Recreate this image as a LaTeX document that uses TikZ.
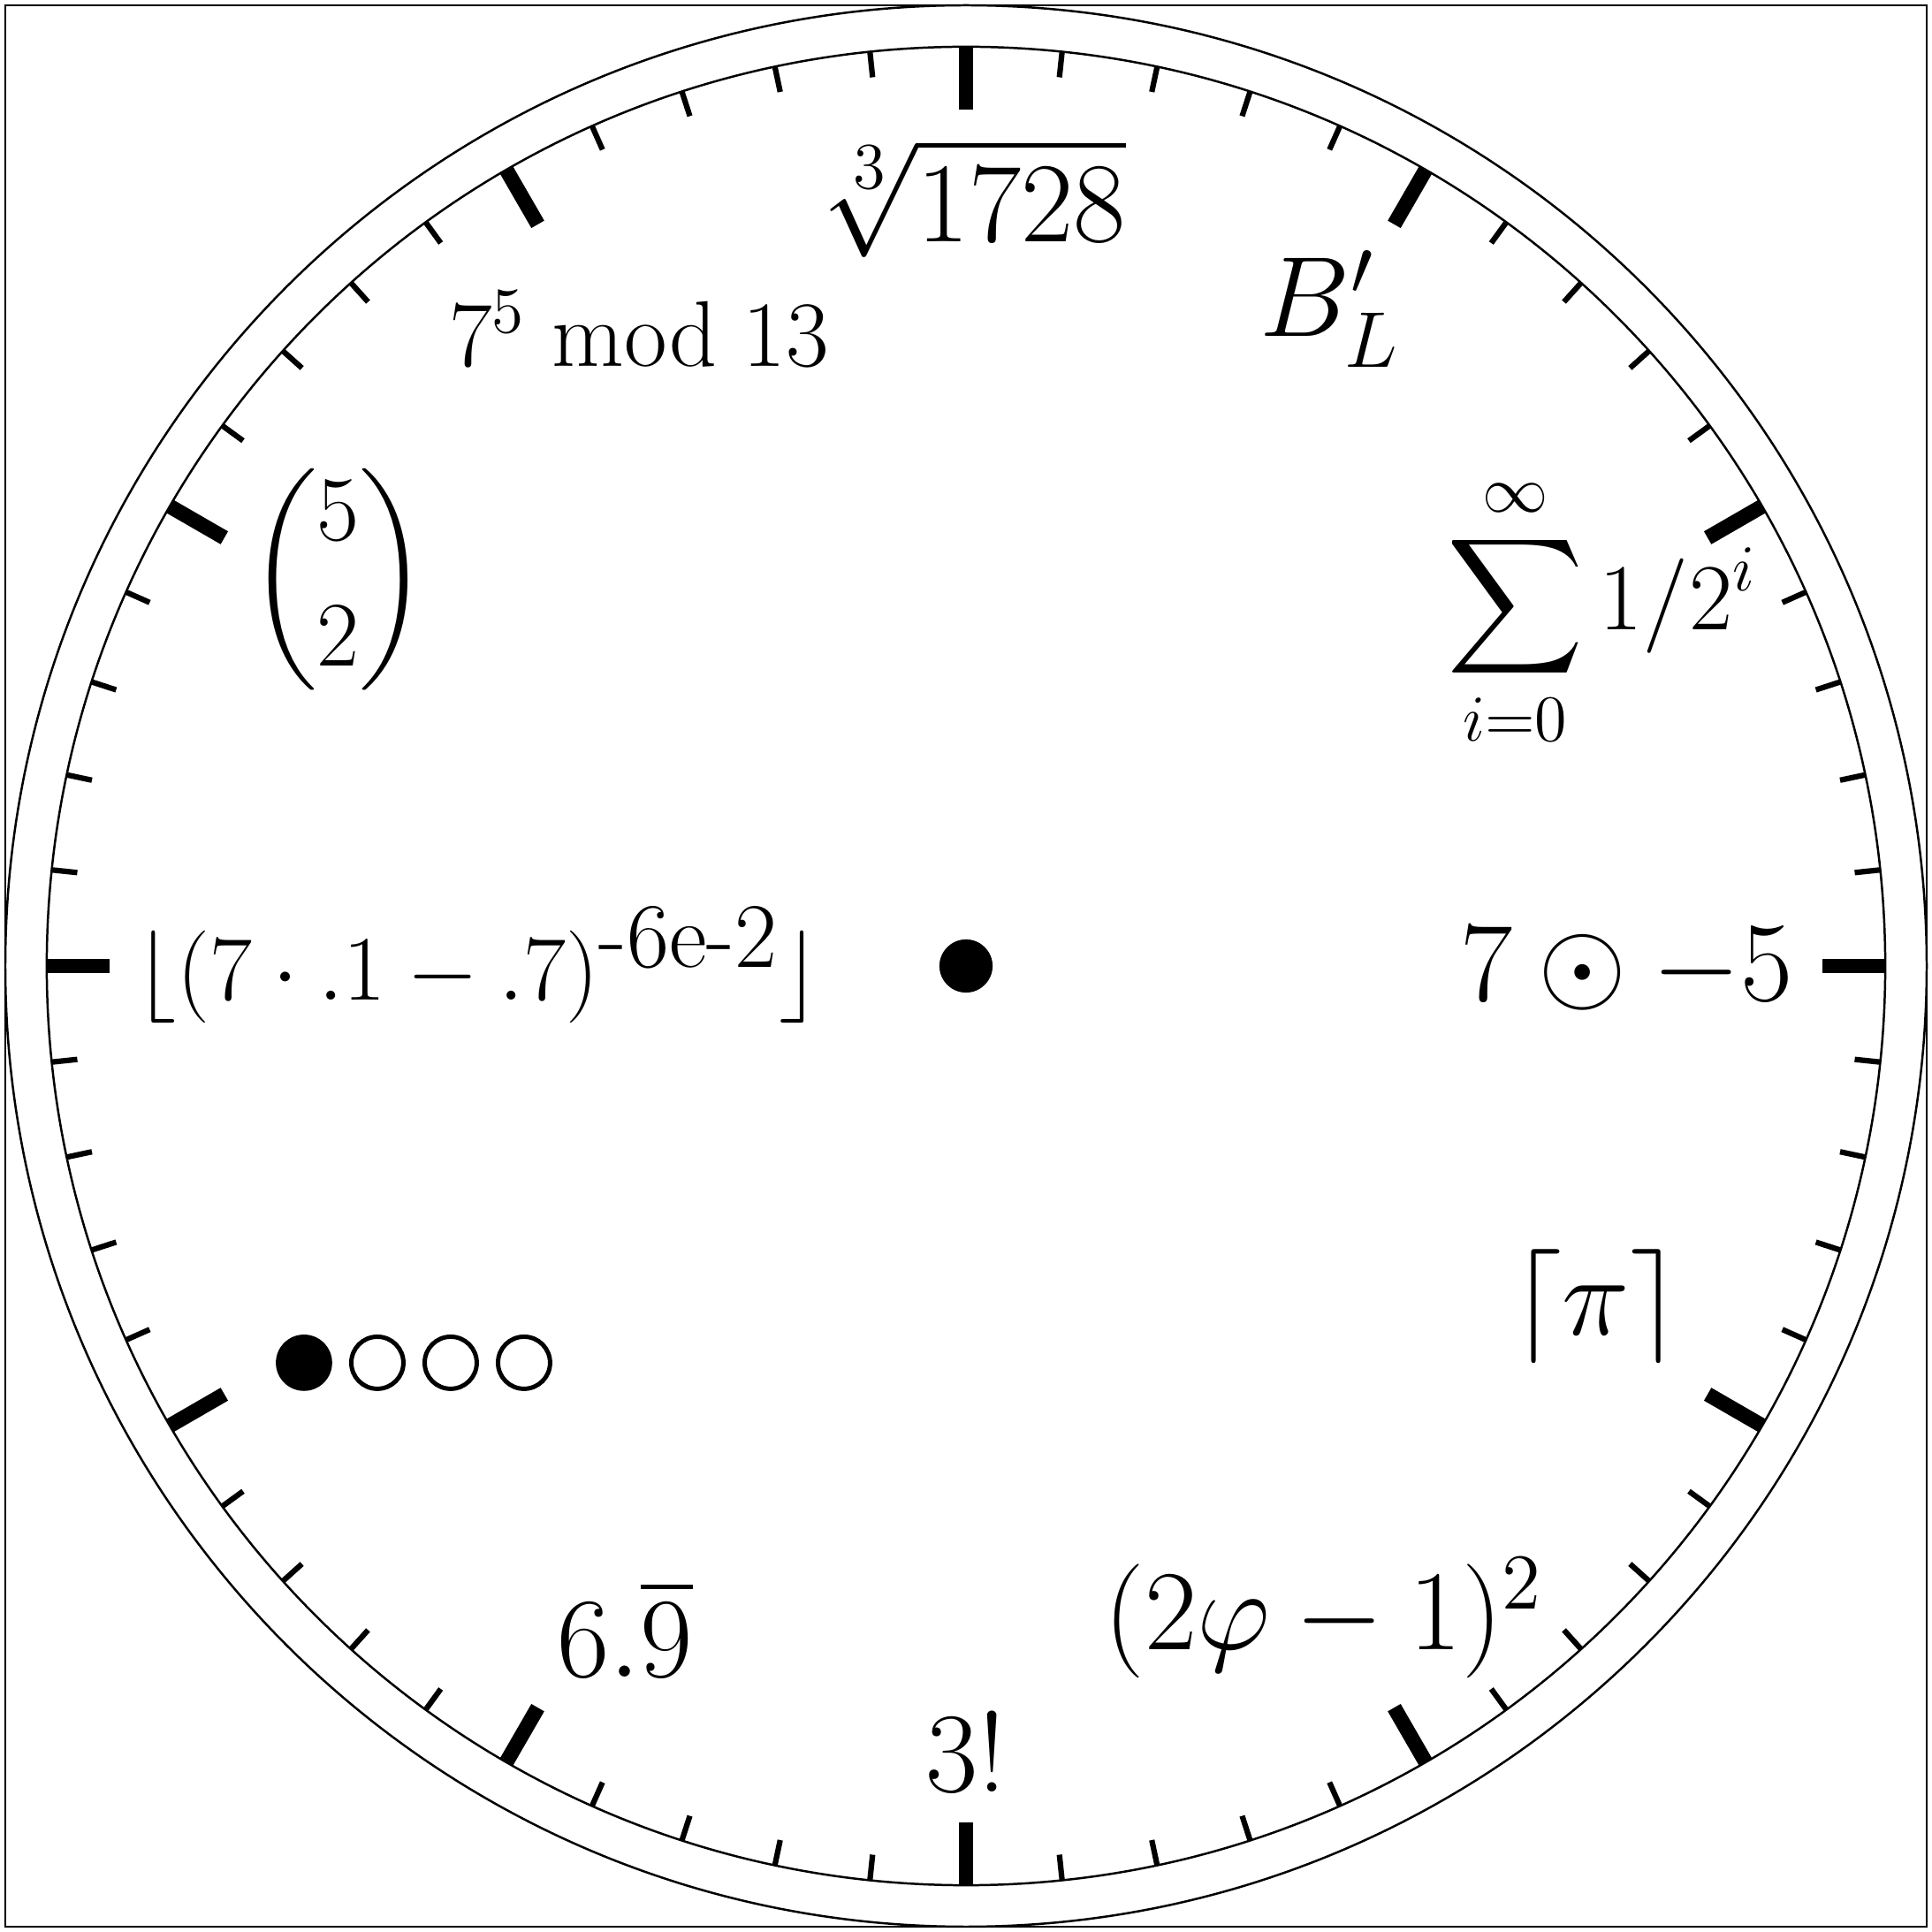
\documentclass[tikz,border=0pt]{standalone}
\usepackage{amssymb}
\usepackage{amsmath}
\usepackage{graphicx}
\usepackage{tikz}

\begin{document}
\begin{tikzpicture}[
    hour/.style={font=\huge, inner sep=0pt, anchor=base},
    bigtick/.style={line width=2.7pt},
    smalltick/.style={line width=1pt},
    bit/.style={circle, minimum size=0.36cm, inner sep=0pt, fill},
    nobit/.style={circle, minimum size=0.333cm, inner sep=0pt, draw, line width=0.8pt}
]
    \useasboundingbox (-6.177,-6.177) rectangle (6.177,6.177);
    \draw[thin] (-6.143,-6.143) rectangle (6.143,6.143);

    % face
    \draw[thin] (0,0) circle (6.143);
    \draw[thin] (0,0) circle (5.878);
    \foreach \a in {0,6,...,354}
        \draw[smalltick] (\a:5.878) -- (\a:5.714);
    \foreach \a in {0,30,...,330}
        \draw[bigtick] (\a:5.878) -- (\a:5.476);
    \node[circle, fill, minimum size=0.34cm, inner sep=0pt] (centre) at (0,0) {};

    % hours
    \node[hour] (h12) at (0.05,4.63) {$\sqrt[3]{1728}$};
    \node[hour] (h1) at (2.328,4.029) {$B'_L$};
    \node[hour] (h2) at (4.065,2.148) {\scalebox{0.83}{$\displaystyle\sum_{i=0}^{\infty} 1/2^i$}};
    \node[hour] (h3) at (4.227,-0.226) {$7 \odot -5$};
    \node[hour] (h4) at (4.03,-2.357) {$\lceil \pi \rceil$};
    \node[hour] (h5) at (2.29,-4.374) {$(2\varphi - 1)^2$};
    \node[hour] (h6) at (0,-5.284) {$3!$};
    \node[hour] (h7) at (-2.181,-4.544) {$6.\overline{9}$};
    \node[bit] (h8a) at (-4.233,-2.537) {};
    \node[nobit] (h8b) at (-3.764,-2.537) {};
    \node[nobit] (h8c) at (-3.295,-2.537) {};
    \node[nobit] (h8d) at (-2.826,-2.537) {};
    \node[hour] (h9) at (-3.12,-0.220) {\scalebox{0.81}{$\lfloor (7 \cdot .1 - .7)^{\mbox{-6e-2}} \rfloor$}};
    \node[hour, anchor=center] (h10) at (-4.013,2.470) {\scalebox{0.81}{$\dbinom{5}{2}$}};
    \node[hour] (h11) at (-2.091,3.832) {\scalebox{0.82}{$7^5 \bmod 13$}};
\end{tikzpicture}
\end{document}
